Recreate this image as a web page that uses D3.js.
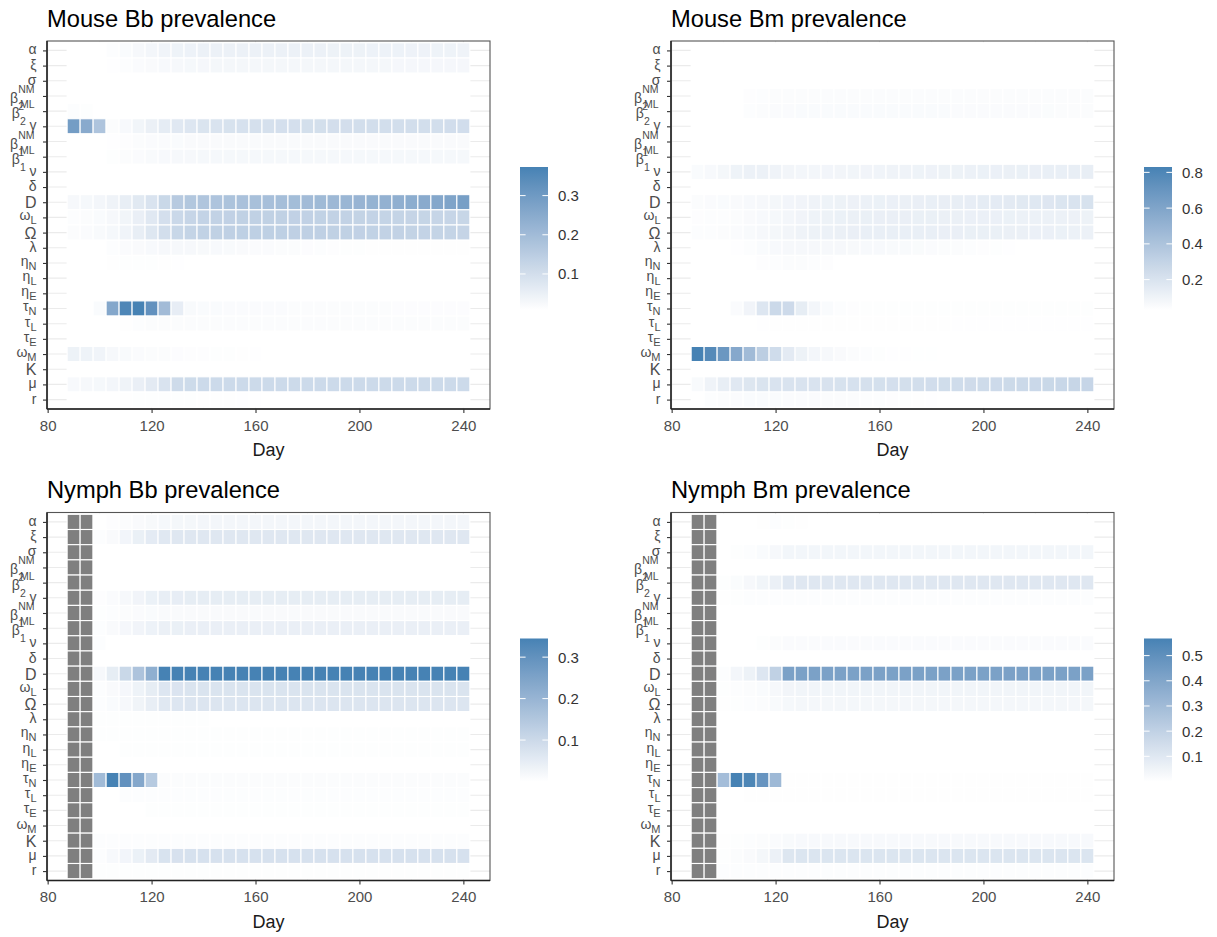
<!DOCTYPE html>
<html>
<head>
<meta charset="utf-8">
<script src="https://cdn.jsdelivr.net/npm/d3@7"></script>
<style>
  body { margin: 0; background: #fff; }
  text { font-family: 'Liberation Sans', Arial, sans-serif; }
</style>
</head>
<body>
<svg id="chart"></svg>
<script>
// days of the tiles (x), one column each
const days = [90, 95, 100, 105, 110, 115, 120, 125, 130, 135, 140, 145, 150, 155, 160, 165,
  170, 175, 180, 185, 190, 195, 200, 205, 210, 215, 220, 225, 230, 235, 240]

// parameters, top to bottom
const params = ['alpha', 'xi', 'sigma', 'b2NM', 'b2ML', 'gamma', 'b1NM', 'b1ML', 'nu', 'delta',
  'D', 'omegaL', 'Omega', 'lambda', 'etaN', 'etaL', 'etaE', 'tauN', 'tauL', 'tauE', 'omegaM', 'K', 'mu', 'r']

const paramLabels = [
  { base: 'α' }, { base: 'ξ' }, { base: 'σ' },
  { base: 'β', sub: '2', sup: 'NM' }, { base: 'β', sub: '2', sup: 'ML' },
  { base: 'γ' },
  { base: 'β', sub: '1', sup: 'NM' }, { base: 'β', sub: '1', sup: 'ML' },
  { base: 'ν' }, { base: 'δ' }, { base: 'D', big: true },
  { base: 'ω', sub: 'L' }, { base: 'Ω', big: true }, { base: 'λ' },
  { base: 'η', sub: 'N' }, { base: 'η', sub: 'L' }, { base: 'η', sub: 'E' },
  { base: 'τ', sub: 'N' }, { base: 'τ', sub: 'L' }, { base: 'τ', sub: 'E' },
  { base: 'ω', sub: 'M' }, { base: 'K', big: true }, { base: 'μ' }, { base: 'r' }
]

// rows follow params order, columns follow days
const mouseBb = [
  [0,0,.008,.014,.02,.027,.033,.038,.042,.044, .046,.047,.047,.047,.047,.047,.047,.046,.046,.046, .045,.045,.045,.044,.044,.044,.043,.043,.042,.042,.04],
  [0,0,.004,.01,.014,.018,.021,.024,.026,.028, .029,.03,.03,.03,.03,.03,.03,.03,.03,.03, .03,.03,.03,.03,.03,.029,.029,.029,.029,.029,.029],
  [0,0,0,0,0,0,0,0,0,0, 0,0,0,0,0,0,0,0,0,0, 0,0,0,0,0,0,0,0,0,0,0],
  [0,0,0,0,0,0,0,0,0,0, 0,0,0,0,0,0,0,0,0,0, 0,0,0,0,0,0,0,0,0,0,0],
  [.014,.012,.009,0,0,0,0,0,0,0, 0,0,0,0,0,0,0,0,0,0, 0,0,0,0,0,0,0,0,0,0,0],
  [.29,.25,.175,.016,.024,.036,.05,.062,.072,.078, .083,.087,.09,.092,.094,.095,.096,.097,.098,.098, .099,.099,.1,.1,.1,.1,.101,.101,.101,.102,.102],
  [0,0,0,.01,.013,.016,.018,.019,.02,.021, .021,.021,.021,.021,.021,.021,.021,.021,.021,.021, .021,.021,.021,.021,.021,.021,.021,.021,.021,.021,.021],
  [0,0,0,.012,.016,.019,.022,.024,.026,.027, .028,.028,.028,.028,.028,.028,.028,.028,.028,.028, .028,.028,.028,.028,.028,.028,.028,.028,.028,.028,.028],
  [0,0,0,0,0,0,0,0,0,0, 0,0,0,0,0,0,0,0,0,0, 0,0,0,0,0,0,0,0,0,0,0],
  [0,0,0,0,0,0,0,0,0,0, 0,0,0,0,0,0,0,0,0,0, 0,0,0,0,0,0,0,0,0,0,0],
  [.026,.028,.032,.041,.056,.069,.086,.118,.156,.166, .171,.174,.178,.182,.186,.189,.192,.196,.2,.205, .21,.215,.22,.225,.23,.236,.243,.25,.26,.27,.285],
  [.014,.016,.02,.026,.036,.051,.071,.096,.116,.126, .131,.134,.136,.137,.137,.137,.137,.136,.136,.135, .134,.133,.132,.131,.13,.129,.128,.127,.126,.125,.124],
  [.016,.018,.022,.028,.039,.055,.075,.1,.12,.13, .135,.138,.14,.141,.141,.141,.141,.14,.14,.139, .138,.137,.136,.135,.134,.133,.132,.131,.13,.129,.128],
  [0,0,0,.014,.018,.021,.024,.026,.026,.026, .025,.024,.022,.021,.019,.018,.017,.016,.015,.014, .013,.012,.012,.011,.011,.011,.011,.011,.011,.011,.011],
  [0,0,0,.011,.012,.012,.012,.011,.01,.009, 0,0,0,0,0,0,0,0,0,0, 0,0,0,0,0,0,0,0,0,0,0],
  [0,0,0,0,0,0,0,0,0,0, 0,0,0,0,0,0,0,0,0,0, 0,0,0,0,0,0,0,0,0,0,0],
  [0,0,0,0,0,0,0,0,0,0, 0,0,0,0,0,0,0,0,0,0, 0,0,0,0,0,0,0,0,0,0,0],
  [0,0,.02,.26,.36,.373,.325,.2,.058,.022, .02,.02,.019,.019,.018,.018,.018,.017,.017,.017, .016,.016,.016,.016,.016,.015,.015,.015,.015,.015,.015],
  [0,0,0,0,.011,.014,.016,.017,.017,.017, .017,.017,.017,.017,.017,.017,.017,.017,.017,.017, .016,.016,.016,.016,.016,.016,.016,.016,.016,.016,.016],
  [0,0,0,0,0,0,0,0,0,0, 0,0,0,0,0,0,0,0,0,0, 0,0,0,0,0,0,0,0,0,0,0],
  [.045,.042,.038,.026,.022,.019,.017,.016,.015,.013, .013,.012,.012,.011,.01,0,0,0,0,0, 0,0,0,0,0,0,0,0,0,0,0],
  [0,0,0,0,0,0,0,0,0,0, 0,0,0,0,0,0,0,0,0,0, 0,0,0,0,0,0,0,0,0,0,0],
  [.024,.026,.028,.032,.04,.052,.066,.086,.108,.11, .112,.112,.112,.112,.112,.112,.112,.112,.112,.112, .112,.112,.112,.112,.112,.112,.112,.112,.112,.112,.112],
  [0,0,0,0,.011,.012,.012,.012,.012,.012, .011,.011,.011,.01,.01,0,0,0,0,0, 0,0,0,0,0,0,0,0,0,0,0]
]

const mouseBm = [
  [0,0,0,0,0,0,0,0,0,0, 0,0,0,0,0,0,0,0,0,0, 0,0,0,0,0,0,0,0,0,0,0],
  [0,0,0,0,0,0,0,0,0,0, 0,0,0,0,0,0,0,0,0,0, 0,0,0,0,0,0,0,0,0,0,0],
  [0,0,0,0,0,0,0,0,0,0, 0,0,0,0,0,0,0,0,0,0, 0,0,0,0,0,0,0,0,0,0,0],
  [0,0,0,0,.04,.044,.046,.047,.048,.048, .048,.048,.048,.048,.048,.048,.048,.048,.048,.048, .046,.046,.046,.046,.046,.046,.046,.046,.046,.046,.046],
  [0,0,0,0,.042,.048,.052,.054,.055,.056, .056,.056,.056,.056,.056,.056,.055,.055,.055,.055, .054,.054,.054,.053,.053,.052,.052,.051,.05,.05,.05],
  [0,0,0,0,0,0,0,0,0,0, 0,0,0,0,0,0,0,0,0,0, 0,0,0,0,0,0,0,0,0,0,0],
  [0,0,0,0,0,0,0,0,0,0, 0,0,0,0,0,0,0,0,0,0, 0,0,0,0,0,0,0,0,0,0,0],
  [0,0,0,0,0,0,0,0,0,0, 0,0,0,0,0,0,0,0,0,0, 0,0,0,0,0,0,0,0,0,0,0],
  [.055,.065,.08,.105,.115,.115,.1,.09,.085,.085, .088,.09,.092,.095,.098,.1,.102,.105,.108,.11, .112,.115,.118,.12,.122,.124,.126,.128,.13,.132,.135],
  [0,0,0,0,0,0,0,0,0,0, 0,0,0,0,0,0,0,0,0,0, 0,0,0,0,0,0,0,0,0,0,0],
  [.05,.052,.055,.058,.065,.072,.08,.088,.095,.1, .105,.11,.113,.116,.118,.12,.122,.125,.128,.131, .135,.14,.145,.15,.157,.165,.172,.18,.19,.2,.21],
  [.04,.042,.045,.05,.058,.066,.075,.085,.095,.105, .112,.118,.122,.124,.125,.125,.125,.124,.123,.122, .121,.12,.12,.119,.118,.117,.116,.115,.114,.113,.112],
  [.042,.045,.048,.053,.062,.07,.08,.09,.1,.11, .117,.122,.126,.128,.129,.129,.129,.128,.127,.126, .125,.124,.124,.123,.122,.121,.12,.119,.118,.117,.116],
  [0,0,0,.035,.045,.055,.065,.07,.072,.072, .072,.07,.068,.066,.064,.062,.06,.057,.054,.05, .047,.044,.04,.037,.034,.032,.031,.03,.03,.03,.03],
  [0,0,0,0,0,.04,.045,.046,.046,.044, .04,0,0,0,0,0,0,0,0,0, 0,0,0,0,0,0,0,0,0,0,0],
  [0,0,0,0,0,0,0,0,0,0, 0,0,0,0,0,0,0,0,0,0, 0,0,0,0,0,0,0,0,0,0,0],
  [0,0,0,0,0,0,0,0,0,0, 0,0,0,0,0,0,0,0,0,0, 0,0,0,0,0,0,0,0,0,0,0],
  [0,0,0,.054,.094,.182,.262,.255,.142,.082, .055,.045,.04,.038,.037,.037,.037,.037,.038,.038, .038,.038,.038,.038,.038,.038,.038,.038,.038,.038,.038],
  [0,0,0,0,0,.034,.036,.036,.036,.036, .036,.036,.036,.036,.036,.036,.036,.036,.036,.036, .034,.034,.034,.034,.034,.034,.034,.034,.034,.034,.034],
  [0,0,0,0,0,0,0,0,0,0, 0,0,0,0,0,0,0,0,0,0, 0,0,0,0,0,0,0,0,0,0,0],
  [.83,.774,.686,.574,.454,.334,.246,.158,.11,.086, .07,.058,.05,.043,.038,.035,.034,.033,.033,.032, .032,.031,.031,0,0,0,0,0,0,0,0],
  [0,0,0,0,0,0,0,0,0,0, 0,0,0,0,0,0,0,0,0,0, 0,0,0,0,0,0,0,0,0,0,0],
  [.062,.1,.134,.17,.185,.195,.2,.2,.2,.2, .205,.21,.215,.22,.222,.225,.228,.232,.236,.24, .244,.248,.252,.256,.26,.264,.268,.272,.276,.28,.286],
  [0,.045,.05,.053,.055,.055,.055,.054,.053,.052, .05,.048,.046,.044,.042,.04,.038,.036,.034,.032, .03,0,0,0,0,0,0,0,0,0,0]
]

// first two days have no nymph data (grey tiles)
const nymphBb = [
  [null,null,0,.004,.008,.012,.016,.019,.021,.022, .023,.023,.024,.024,.024,.024,.024,.024,.024,.024, .024,.024,.024,.024,.024,.024,.024,.024,.024,.024,.024],
  [null,null,.005,.012,.025,.04,.052,.06,.062,.062, .062,.062,.062,.062,.062,.062,.062,.062,.062,.062, .062,.062,.062,.062,.062,.062,.062,.062,.062,.062,.062],
  [null,null,0,0,0,0,0,0,0,0, 0,0,0,0,0,0,0,0,0,0, 0,0,0,0,0,0,0,0,0,0,0],
  [null,null,0,0,0,0,0,0,0,0, 0,0,0,0,0,0,0,0,0,0, 0,0,0,0,0,0,0,0,0,0,0],
  [null,null,0,0,0,0,0,0,0,0, 0,0,0,0,0,0,0,0,0,0, 0,0,0,0,0,0,0,0,0,0,0],
  [null,null,.004,.01,.018,.028,.038,.045,.047,.048, .048,.048,.048,.048,.048,.048,.048,.048,.048,.048, .048,.048,.048,.048,.048,.048,.048,.048,.048,.048,.048],
  [null,null,.003,.005,.008,.01,.011,.012,.012,.012, .012,.012,.012,.012,.012,.012,.012,.012,.012,.012, .012,.012,.012,.012,.012,.012,.012,.012,.012,.012,.012],
  [null,null,.005,.012,.02,.028,.034,.039,.04,.041, .041,.041,.041,.041,.041,.041,.041,.041,.041,.041, .041,.041,.041,.041,.041,.041,.041,.041,.041,.041,.041],
  [null,null,.005,0,0,0,0,0,0,0, 0,0,0,0,0,0,0,0,0,0, 0,0,0,0,0,0,0,0,0,0,0],
  [null,null,0,0,0,0,0,0,0,0, 0,0,0,0,0,0,0,0,0,0, 0,0,0,0,0,0,0,0,0,0,0],
  [null,null,.017,.048,.104,.159,.217,.345,.345,.345, .345,.345,.345,.345,.345,.345,.345,.345,.345,.345, .345,.345,.345,.345,.345,.345,.345,.345,.345,.345,.345],
  [null,null,.005,.012,.02,.032,.048,.065,.07,.072, .072,.072,.072,.072,.072,.072,.072,.072,.072,.072, .072,.072,.072,.072,.072,.072,.072,.072,.072,.072,.072],
  [null,null,.005,.011,.018,.03,.045,.061,.066,.068, .068,.068,.068,.068,.068,.068,.068,.068,.068,.068, .068,.068,.068,.068,.068,.068,.068,.068,.068,.068,.068],
  [null,null,.003,.003,.003,.003,.003,.003,.003,.003, .003,0,0,0,0,0,0,0,0,0, 0,0,0,0,0,0,0,0,0,0,0],
  [null,null,.003,.003,.003,.003,.003,.003,.003,.003, .003,.003,.003,.003,.003,.003,.003,.003,.003,.003, .003,.003,.003,.003,.003,.003,.003,.003,.003,.003,.003],
  [null,null,0,0,.003,.003,.003,.003,.003,.003, .003,.003,.003,.003,.003,.003,.003,.003,.003,.003, .003,.003,.003,.003,.003,.003,.003,.003,.003,.003,.003],
  [null,null,0,0,0,0,0,0,0,0, 0,0,0,0,0,0,0,0,0,0, 0,0,0,0,0,0,0,0,0,0,0],
  [null,null,.183,.345,.3,.238,.141,.008,.008,.008, .008,.008,.008,.008,.008,.008,.008,.008,.008,.008, .008,.008,.008,.008,.008,.008,.008,.008,.008,.008,.008],
  [null,null,0,0,.006,.006,.006,.006,.006,.006, .006,.006,.006,.006,.006,.006,.006,.006,.006,.006, .006,.006,.006,.006,.006,.006,.006,.006,.006,.006,.006],
  [null,null,0,0,0,0,.003,.003,.003,.003, .003,.003,.003,.003,.003,.003,.003,.003,.003,.003, .003,.003,.003,.003,.003,.003,.003,.003,.003,.003,.003],
  [null,null,0,0,0,0,0,0,0,0, 0,0,0,0,0,0,0,0,0,0, 0,0,0,0,0,0,0,0,0,0,0],
  [null,null,.005,.005,.005,.005,.005,.005,.005,.005, .005,.005,.005,.005,.005,.005,.005,.005,.005,.005, .005,.005,.005,.005,.005,.005,.005,.005,.005,.005,.005],
  [null,null,.006,.015,.025,.038,.055,.075,.078,.08, .08,.08,.08,.08,.08,.08,.08,.08,.08,.08, .08,.08,.08,.08,.08,.08,.08,.08,.08,.08,.08],
  [null,null,.003,.003,.003,.003,.003,.003,.003,.003, .003,.003,.003,.003,.003,.003,.003,.003,.003,.003, .003,.003,.003,.003,.003,.003,.003,.003,.003,.003,.003]
]

const nymphBm = [
  [null,null,0,0,0,.004,.008,.006,.004,0, 0,0,0,0,0,0,0,0,0,0, 0,0,0,0,0,0,0,0,0,0,0],
  [null,null,0,0,0,0,0,0,0,0, 0,0,0,0,0,0,0,0,0,0, 0,0,0,0,0,0,0,0,0,0,0],
  [null,null,0,.005,.01,.018,.028,.04,.04,.04, .04,.04,.04,.04,.04,.04,.04,.04,.04,.04, .04,.04,.04,.04,.04,.04,.04,.04,.04,.04,.04],
  [null,null,0,0,0,0,0,0,0,0, 0,0,0,0,0,0,0,0,0,0, 0,0,0,0,0,0,0,0,0,0,0],
  [null,null,.005,.015,.028,.045,.065,.1,.102,.102, .102,.102,.102,.102,.102,.102,.102,.102,.102,.102, .102,.102,.102,.102,.102,.102,.102,.102,.102,.102,.102],
  [null,null,.004,.006,.008,.008,.008,.008,.008,.008, .008,.008,.008,.008,.008,.008,.008,.008,.008,.008, .008,.008,.008,.008,.008,.008,.008,.008,.008,.008,.008],
  [null,null,0,0,0,0,0,0,0,0, 0,0,0,0,0,0,0,0,0,0, 0,0,0,0,0,0,0,0,0,0,0],
  [null,null,0,0,0,0,0,0,0,0, 0,0,0,0,0,0,0,0,0,0, 0,0,0,0,0,0,0,0,0,0,0],
  [null,null,0,0,0,.006,.012,.016,.017,.017, .017,.017,.017,.017,.017,.017,.017,.017,.017,.017, .017,.017,.017,.017,.017,.017,.017,.017,.017,.017,.017],
  [null,null,0,0,0,0,0,0,0,0, 0,0,0,0,0,0,0,0,0,0, 0,0,0,0,0,0,0,0,0,0,0],
  [null,null,.008,.037,.057,.108,.2,.42,.42,.42, .42,.42,.42,.42,.42,.42,.42,.42,.42,.42, .42,.42,.42,.42,.42,.42,.42,.42,.42,.42,.42],
  [null,null,.005,.008,.012,.018,.028,.042,.045,.045, .045,.045,.045,.045,.045,.045,.045,.045,.045,.045, .045,.045,.045,.045,.045,.045,.045,.045,.045,.045,.045],
  [null,null,.004,.006,.009,.014,.022,.032,.035,.035, .035,.035,.035,.035,.035,.035,.035,.035,.035,.035, .035,.035,.035,.035,.035,.035,.035,.035,.035,.035,.035],
  [null,null,0,0,0,0,0,0,0,0, 0,0,0,0,0,0,0,0,0,0, 0,0,0,0,0,0,0,0,0,0,0],
  [null,null,0,0,0,0,0,0,0,0, 0,0,0,0,0,0,0,0,0,0, 0,0,0,0,0,0,0,0,0,0,0],
  [null,null,0,0,0,0,0,0,0,0, 0,0,0,0,0,0,0,0,0,0, 0,0,0,0,0,0,0,0,0,0,0],
  [null,null,0,0,0,0,0,0,0,0, 0,0,0,0,0,0,0,0,0,0, 0,0,0,0,0,0,0,0,0,0,0],
  [null,null,.29,.568,.55,.48,.31,.004,.004,.004, .004,.004,.004,.004,.004,.004,.004,.004,.004,.004, .004,.004,.004,.004,.004,.004,.004,.004,.004,.004,.004],
  [null,null,0,0,.004,.004,.004,.004,.004,.004, .004,.004,.004,.004,.004,.004,.004,.004,.004,.004, .004,.004,.004,.004,.004,.004,.004,.004,.004,.004,.004],
  [null,null,0,0,0,0,0,0,0,0, 0,0,0,0,0,0,0,0,0,0, 0,0,0,0,0,0,0,0,0,0,0],
  [null,null,0,0,0,0,0,0,0,0, 0,0,0,0,0,0,0,0,0,0, 0,0,0,0,0,0,0,0,0,0,0],
  [null,null,.004,.006,.008,.012,.016,.022,.024,.025, .025,.025,.025,.025,.025,.025,.025,.025,.025,.025, .025,.025,.025,.025,.025,.025,.025,.025,.025,.025,.025],
  [null,null,.005,.012,.02,.035,.06,.11,.114,.114, .114,.114,.114,.114,.114,.114,.114,.114,.114,.114, .114,.114,.114,.114,.114,.114,.114,.114,.114,.114,.114],
  [null,null,.008,.008,.008,.008,.008,.008,.008,.008, .008,.008,.008,.008,.008,.008,.008,.008,.008,.008, .008,.008,.008,.008,.008,.008,.008,.008,.008,.008,.008]
]

const panelTitles = ['Mouse Bb prevalence', 'Mouse Bm prevalence', 'Nymph Bb prevalence', 'Nymph Bm prevalence']
// colour bar limits
const fillLimits = [[0.008, 0.373], [0.03, 0.83], [0, 0.345], [0, 0.568]]
const legendBreaks = [[0.1, 0.2, 0.3], [0.2, 0.4, 0.6, 0.8], [0.1, 0.2, 0.3], [0.1, 0.2, 0.3, 0.4, 0.5]]
const xTicks = [80, 120, 160, 200, 240]
const xMinor = [100, 140, 180, 220]

const W = 1217
const H = 937
const PW = 443 // panel width
const PH = 368 // panel height
const origins = [[47, 41], [671, 41], [47, 512.5], [671, 512.5]]
const TXT = '#4d4d4d'

const svg = d3.select('#chart').attr('width', W).attr('height', H)
svg.append('rect').attr('width', W).attr('height', H).attr('fill', '#fff')
const defs = svg.append('defs')

const drawPanel = (data, idx) => {
  const [x0, y0] = origins[idx]
  const limits = fillLimits[idx]
  const g = svg.append('g')

  const x = d3.scaleLinear().domain([79.75, 250.25]).range([x0, x0 + PW])
  const y = d3.scalePoint().domain(params).range([y0, y0 + PH]).padding(0.62)
  const step = y.step()
  const color = d3.scaleLinear().domain(limits).range(['#ffffff', 'steelblue'])
    .interpolate(d3.interpolateLab).clamp(true)

  // grid
  g.append('g').selectAll('line').data(params).join('line')
    .attr('x1', x0).attr('x2', x0 + PW)
    .attr('y1', d => y(d)).attr('y2', d => y(d))
    .attr('stroke', '#ebebeb').attr('stroke-width', 1.1)
  g.append('g').selectAll('line').data(xTicks).join('line')
    .attr('x1', d => x(d)).attr('x2', d => x(d))
    .attr('y1', y0).attr('y2', y0 + PH)
    .attr('stroke', '#ebebeb').attr('stroke-width', 1.1)
  g.append('g').selectAll('line').data(xMinor).join('line')
    .attr('x1', d => x(d)).attr('x2', d => x(d))
    .attr('y1', y0).attr('y2', y0 + PH)
    .attr('stroke', '#f2f2f2').attr('stroke-width', 0.6)

  // tiles
  const cells = data.flatMap((row, r) => row.map((v, c) => ({ p: params[r], day: days[c], v })))
  g.append('g').selectAll('rect').data(cells).join('rect')
    .attr('x', d => x(d.day - 2.5))
    .attr('y', d => y(d.p) - step / 2)
    .attr('width', d => x(d.day + 2.5) - x(d.day - 2.5))
    .attr('height', step)
    .attr('fill', d => d.v === null ? '#7f7f7f' : color(d.v))
    .attr('stroke', '#fff')
    .attr('stroke-width', 1.1)

  // border + axis lines
  g.append('rect').attr('x', x0).attr('y', y0).attr('width', PW).attr('height', PH)
    .attr('fill', 'none').attr('stroke', '#555').attr('stroke-width', 1.1)
  g.append('line').attr('x1', x0).attr('x2', x0).attr('y1', y0).attr('y2', y0 + PH)
    .attr('stroke', '#222').attr('stroke-width', 1.5)
  g.append('line').attr('x1', x0).attr('x2', x0 + PW).attr('y1', y0 + PH).attr('y2', y0 + PH)
    .attr('stroke', '#222').attr('stroke-width', 1.5)

  // x axis
  const xa = g.append('g').attr('transform', `translate(0,${y0 + PH})`)
    .call(d3.axisBottom(x).tickValues(xTicks).tickSize(4).tickPadding(7))
  xa.select('.domain').remove()
  xa.selectAll('line').attr('stroke', '#333').attr('stroke-width', 1.1)
  xa.selectAll('text').attr('font-size', 15).attr('fill', TXT)
    .attr('font-family', "'Liberation Sans', Arial, sans-serif")

  // y axis ticks
  const ya = g.append('g').attr('transform', `translate(${x0},0)`)
    .call(d3.axisLeft(y).tickSize(4).tickFormat(''))
  ya.select('.domain').remove()
  ya.selectAll('line').attr('stroke', '#333').attr('stroke-width', 1.1)

  // y labels with sub / superscripts (they overlap their neighbours, as in the original)
  const lx = x0 - 10.5
  params.forEach((p, k) => {
    const L = paramLabels[k]
    const ty = y(p)
    if (L.sup) {
      const sup = g.append('text').attr('x', lx - 2).attr('y', ty - 3)
        .attr('text-anchor', 'end').attr('font-size', 10.5).attr('fill', TXT).text(L.sup)
      const sw = sup.node().getComputedTextLength()
      g.append('text').attr('x', lx - 2 - sw).attr('y', ty + 7)
        .attr('text-anchor', 'end').attr('font-size', 14).attr('fill', TXT).text(L.base)
      g.append('text').attr('x', lx - 2 - sw).attr('y', ty + 14)
        .attr('font-size', 10.5).attr('fill', TXT).text(L.sub)
    } else if (L.sub) {
      const t = g.append('text').attr('x', lx).attr('y', ty + 3)
        .attr('text-anchor', 'end').attr('fill', TXT)
      t.append('tspan').attr('font-size', 14).text(L.base)
      t.append('tspan').attr('font-size', 11).attr('dy', 4).text(L.sub)
    } else {
      g.append('text').attr('x', lx).attr('y', ty + (L.big ? 6 : 4))
        .attr('text-anchor', 'end').attr('font-size', L.big ? 16 : 14)
        .attr('fill', TXT).text(L.base)
    }
  })

  // titles
  g.append('text').attr('x', x0).attr('y', y0 - 14.3)
    .attr('font-size', 23.7).attr('fill', '#000').text(panelTitles[idx])
  g.append('text').attr('x', x0 + PW / 2).attr('y', y0 + PH + 47)
    .attr('text-anchor', 'middle').attr('font-size', 18).attr('fill', '#1a1a1a').text('Day')

  // colour bar legend
  const bx = x0 + 473
  const by = y0 + 126
  const bw = 28
  const bh = 143
  const grad = defs.append('linearGradient').attr('id', `grad${idx}`)
    .attr('x1', 0).attr('y1', 1).attr('x2', 0).attr('y2', 0)
  d3.range(0, 1.0001, 0.05).forEach(t => {
    grad.append('stop').attr('offset', t)
      .attr('stop-color', color(limits[0] + t * (limits[1] - limits[0])))
  })
  g.append('rect').attr('x', bx).attr('y', by).attr('width', bw).attr('height', bh)
    .attr('fill', `url(#grad${idx})`)
  const ly = d3.scaleLinear().domain(limits).range([by + bh, by])
  legendBreaks[idx].forEach(b => {
    const yy = ly(b)
    g.append('line').attr('x1', bx).attr('x2', bx + 5.6).attr('y1', yy).attr('y2', yy)
      .attr('stroke', '#fff').attr('stroke-width', 1)
    g.append('line').attr('x1', bx + bw - 5.6).attr('x2', bx + bw).attr('y1', yy).attr('y2', yy)
      .attr('stroke', '#fff').attr('stroke-width', 1)
    g.append('text').attr('x', bx + bw + 10).attr('y', yy + 5.5)
      .attr('font-size', 15).attr('fill', '#333').text(d3.format('.1f')(b))
  })
}

;[mouseBb, mouseBm, nymphBb, nymphBm].forEach((data, i) => drawPanel(data, i))
</script>
</body>
</html>
